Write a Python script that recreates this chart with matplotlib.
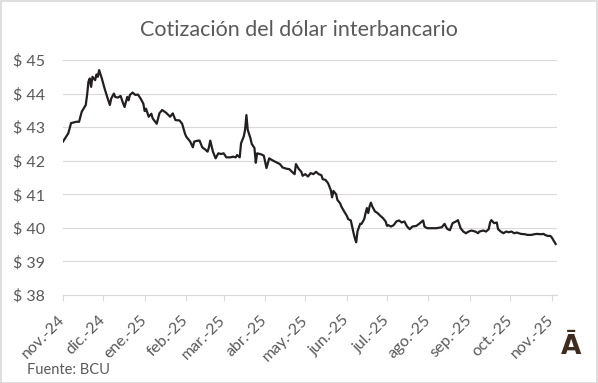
import numpy as np
import pandas as pd
import matplotlib
matplotlib.use("Agg")
import matplotlib.pyplot as plt
import matplotlib.patches as patches

# dias desde el 1-nov-2024 y cotizacion
dias = [0, 4, 6, 10, 12, 14, 17, 18, 19, 20, 21, 22, 24, 25, 26, 27, 29, 31, 33, 35,
        36, 38, 39, 41, 43, 45, 46, 48, 49, 50, 52, 54, 56, 58, 60, 61, 62, 64, 66, 67,
        69, 70, 72, 74, 77, 80, 82, 84, 87, 89, 91, 92, 95, 97, 98, 101, 102, 104, 106, 108,
        109, 110, 112, 114, 116, 118, 120, 122, 125, 127, 129, 130, 132, 133, 135, 136, 137, 138, 140, 141,
        143, 144, 145, 148, 150, 152, 154, 157, 160, 162, 164, 167, 169, 171, 173, 174, 176, 178, 179, 181,
        183, 185, 187, 189, 191, 193, 194, 196, 198, 200, 201, 202, 204, 205, 207, 208, 210, 212, 213, 215,
        217, 218, 219, 220, 222, 223, 225, 226, 227, 228, 229, 230, 231, 233, 235, 237, 239, 241, 242, 243,
        245, 247, 249, 251, 253, 255, 257, 259, 261, 264, 266, 269, 270, 272, 275, 279, 283, 285, 286, 287,
        289, 291, 294, 295, 297, 299, 301, 303, 305, 308, 310, 311, 314, 316, 318, 319, 320, 322, 324, 325,
        327, 329, 331, 333, 335, 337, 339, 342, 345, 347, 350, 352, 354, 357, 359, 360, 362, 364, 365, 367,
        368]
cotizacion = [42.57, 42.82, 43.12, 43.16, 43.16, 43.46, 43.66, 43.96, 44.35, 44.45, 44.20, 44.50, 44.40, 44.57, 44.50, 44.70, 44.45, 44.16, 43.90, 43.66,
              43.85, 44.00, 43.90, 43.88, 43.93, 43.70, 43.60, 43.90, 43.80, 43.96, 44.03, 43.96, 43.97, 43.85, 43.70, 43.48, 43.55, 43.31, 43.40, 43.26,
              43.15, 43.10, 43.41, 43.51, 43.43, 43.31, 43.41, 43.21, 43.20, 43.10, 42.82, 42.72, 42.57, 42.40, 42.57, 42.60, 42.60, 42.40, 42.34, 42.27,
              42.40, 42.60, 42.27, 42.07, 42.22, 42.20, 42.22, 42.10, 42.10, 42.12, 42.10, 42.17, 42.10, 42.52, 42.72, 42.92, 43.36, 42.92, 42.67, 42.50,
              42.38, 41.94, 42.22, 42.19, 42.15, 41.78, 42.07, 42.00, 41.94, 41.90, 41.80, 41.76, 41.75, 41.67, 41.60, 41.90, 41.76, 41.67, 41.55, 41.60,
              41.53, 41.63, 41.60, 41.67, 41.60, 41.57, 41.45, 41.43, 41.33, 41.13, 40.91, 41.10, 41.00, 40.83, 40.73, 40.63, 40.49, 40.36, 40.26, 40.22,
              39.85, 39.69, 39.57, 39.90, 40.12, 40.12, 40.26, 40.44, 40.59, 40.44, 40.64, 40.75, 40.64, 40.49, 40.44, 40.36, 40.29, 40.19, 40.06, 40.08,
              40.04, 40.08, 40.19, 40.22, 40.16, 40.19, 40.04, 39.96, 40.04, 40.06, 40.12, 40.22, 40.04, 39.99, 39.99, 39.99, 40.02, 40.12, 40.04, 39.97,
              39.93, 40.14, 40.20, 40.23, 39.99, 39.89, 39.84, 39.89, 39.92, 39.89, 39.84, 39.89, 39.92, 39.89, 39.96, 40.16, 40.23, 40.14, 40.16, 39.96,
              39.89, 39.84, 39.89, 39.87, 39.89, 39.84, 39.86, 39.82, 39.81, 39.79, 39.79, 39.81, 39.82, 39.81, 39.82, 39.79, 39.76, 39.76, 39.72, 39.59,
              39.52]
meses = ["nov.-24", "dic.-24", "ene.-25", "feb.-25", "mar.-25", "abr.-25", "may.-25",
         "jun.-25", "jul.-25", "ago.-25", "sep.-25", "oct.-25", "nov.-25"]
y_ticks = [38, 39, 40, 41, 42, 43, 44, 45]

inicio = pd.Timestamp("2024-11-01")
fechas = inicio + pd.to_timedelta(dias, unit="D")
ticks_meses = pd.date_range(inicio, periods=len(meses), freq="MS")

plt.rcParams["font.family"] = ["Lato", "DejaVu Sans"]
gris = "#595959"

fig = plt.figure(figsize=(5.98, 3.83), dpi=100)
ax = fig.add_axes([63 / 598, 1 - 295 / 383, 494 / 598, 235 / 383])

ax.plot(fechas, cotizacion, color="#231f20", linewidth=1.6)

ax.set_ylim(38, 45)
ax.set_yticks(y_ticks)
ax.set_yticklabels([f"$ {v}" for v in y_ticks])
ax.set_xlim(inicio, inicio + pd.Timedelta(days=369))
ax.set_xticks(ticks_meses)
ax.set_xticklabels(meses, rotation=45, ha="right", va="center", rotation_mode="anchor")

ax.grid(axis="y", color="#d9d9d9", linewidth=0.8)
ax.set_axisbelow(True)
for s in ["top", "right", "left"]:
    ax.spines[s].set_visible(False)
ax.spines["bottom"].set_color("#d9d9d9")
ax.spines["bottom"].set_linewidth(0.8)
ax.tick_params(axis="y", length=0, pad=13, labelsize=11.5, labelcolor=gris)
ax.tick_params(axis="x", length=4.5, color="#d9d9d9", width=0.8, pad=12,
               labelsize=11.5, labelcolor=gris)

fig.text(0.5, 1 - 30 / 383, "Cotización del dólar interbancario", ha="center",
         va="center", fontsize=15.5, color=gris)
fig.text(27 / 598, 1 - 370 / 383, "Fuente: BCU", ha="left", va="center",
         fontsize=10.5, color=gris)
fig.text(571 / 598, 1 - 347 / 383, "Ā", ha="center", va="center", fontsize=19,
         fontweight="bold", family="DejaVu Sans", color="#3d2b1f")

fig.patches.append(patches.Rectangle((0.001, 0.001), 0.997, 0.997, transform=fig.transFigure,
                                     fill=False, edgecolor="#d9d9d9", linewidth=1.2))

plt.savefig("out.png", dpi=100)
